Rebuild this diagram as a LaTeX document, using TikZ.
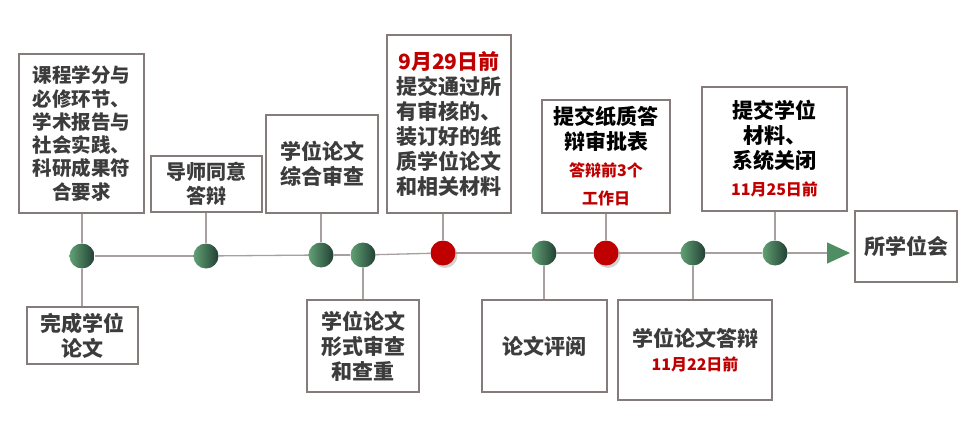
\documentclass[tikz,border=0pt]{standalone}
\usepackage{fontspec}
\setmainfont{Noto Sans CJK SC}
\usetikzlibrary{arrows.meta,shadows,shadings}
\definecolor{txt}{HTML}{3C3C3C}
\definecolor{rd}{HTML}{C00000}
\definecolor{bd}{HTML}{857B7B}
\definecolor{ln}{HTML}{A8A0A0}
\definecolor{gl}{HTML}{62A274}
\definecolor{gd}{HTML}{213F34}
\definecolor{ga}{HTML}{4E8E62}
\tikzset{
  box/.style={draw=bd, line width=1.1pt, fill=white, align=center, inner sep=0pt,
    text=txt, font=\fontsize{21}{25}\selectfont\bfseries},
  gdot/.style={circle, minimum size=25pt, inner sep=0pt, left color=gl, right color=gd, shading angle=90},
  rdot/.style={circle, minimum size=25pt, inner sep=0pt, fill=rd,
    drop shadow={shadow xshift=2pt, shadow yshift=-2.5pt, opacity=0.35}},
  tl/.style={draw=ln, line width=1.3pt},
  conn/.style={draw=ln, line width=1.3pt}
}
\newcommand{\redsm}[1]{{\color{rd}\fontsize{16}{20}\selectfont #1}}
\begin{document}
\begin{tikzpicture}[x=1pt,y=-1pt]
\useasboundingbox (0,0) rectangle (977,428);
% circles
\node[gdot] (c1) at (82,256) {};
\node[gdot] (c2) at (206,256) {};
\node[gdot] (c3) at (321,255) {};
\node[gdot] (c4) at (363,255) {};
\node[rdot] (c5) at (443,253) {};
\node[gdot] (c6) at (544,253) {};
\node[rdot] (c7) at (606,253) {};
\node[gdot] (c8) at (693,253) {};
\node[gdot] (c9) at (775,253) {};
\coordinate (tip) at (850,253);
% boxes
\node[box, minimum width=125pt, minimum height=159pt, font=\fontsize{19.5}{23.3}\selectfont\bfseries] (b1) at (81.5,133.5)
  {课程学分与\\必修环节、\\学术报告与\\社会实践、\\科研成果符\\合要求};
\node[box, minimum width=111pt, minimum height=56pt, font=\fontsize{20}{24}\selectfont\bfseries] (b2) at (206.5,184) {导师同意\\答辩};
\node[box, minimum width=112pt, minimum height=98pt] (b3) at (322,164) {学位论文\\综合审查};
\node[box, minimum width=124pt, minimum height=178pt] (b4) at (449,124)
  {\textcolor{rd}{9月29日前}\\提交通过所\\有审核的、\\装订好的纸\\质学位论文\\和相关材料};
\node[box, minimum width=128pt, minimum height=113pt, text=black] (b5) at (606,156.5)
  {提交纸质答\\辩审批表\\[2pt]\redsm{答辩前3个}\\[3pt]\redsm{工作日}};
\node[box, minimum width=145pt, minimum height=124pt, text=black] (b6) at (774.5,149)
  {提交学位\\材料、\\系统关闭\\[2pt]\redsm{11月25日前}};
\node[box, minimum width=102pt, minimum height=71pt] (b7) at (906,246.5) {所学位会};
\node[box, minimum width=111pt, minimum height=57pt] (b8) at (82.5,335.5) {完成学位\\论文};
\node[box, minimum width=112pt, minimum height=92pt] (b9) at (363,346) {学位论文\\形式审查\\和查重};
\node[box, minimum width=125pt, minimum height=92pt] (b10) at (544.5,346) {论文评阅};
\node[box, minimum width=154pt, minimum height=100pt] (b11) at (695,350)
  {学位论文答辩\\[-1pt]\redsm{11月22日前}};
% timeline
\draw[tl] (c1) -- (c2);
\draw[tl] (c2) -- (c3);
\draw[tl] (c3) -- (c4);
\draw[tl] (c4) -- (c5);
\draw[tl] (c5) -- (c6);
\draw[tl] (c6) -- (c7);
\draw[tl] (c7) -- (c8);
\draw[tl] (c8) -- (c9);
\draw[tl, -{Triangle[length=23pt,width=21pt,color=ga]}] (c9) -- (tip);
% connectors
\draw[conn] (c1 |- b1.south) -- (c1);
\draw[conn] (c2 |- b2.south) -- (c2);
\draw[conn] (c3 |- b3.south) -- (c3);
\draw[conn] (c5 |- b4.south) -- (c5);
\draw[conn] (c7 |- b5.south) -- (c7);
\draw[conn] (c9 |- b6.south) -- (c9);
\draw[conn] (c1) -- (c1 |- b8.north);
\draw[conn] (c4) -- (c4 |- b9.north);
\draw[conn] (c6) -- (c6 |- b10.north);
\draw[conn] (c8) -- (c8 |- b11.north);
\end{tikzpicture}
\end{document}
